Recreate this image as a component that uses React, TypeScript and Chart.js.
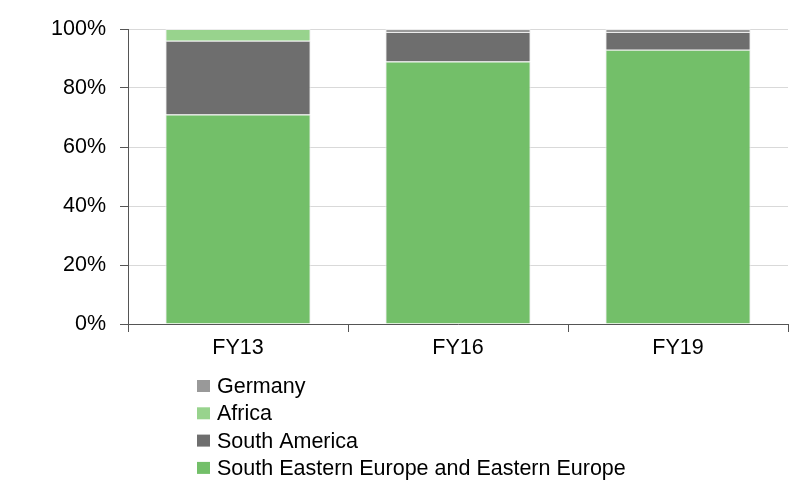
import React, { useEffect, useRef } from "react";
import { Chart, registerables } from "chart.js";

Chart.register(...registerables);

const categories = ["FY13", "FY16", "FY19"];
const seeEurope = [71, 89, 93];
const southAmerica = [25, 10, 6];
const africa = [4, 0, 0];
const germany = [0, 1, 1];
const yTicks = [0, 20, 40, 60, 80, 100];

const FONT = "'Liberation Sans', Arial, sans-serif";

const legendPlugin = {
  id: "customLegend",
  afterDraw(chart: any) {
    const ctx = chart.ctx;
    const ds = chart.data.datasets.slice().reverse();
    ctx.save();
    ctx.font = `21.5px ${FONT}`;
    ctx.textBaseline = "alphabetic";
    ctx.textAlign = "left";
    const x0 = 197;
    const baseline0 = 393;
    const step = 27.3;
    ds.forEach((d: any, i: number) => {
      const b = baseline0 + i * step;
      ctx.fillStyle = d.backgroundColor;
      ctx.fillRect(x0, b - 13, 13, 12);
      ctx.fillStyle = "#000";
      ctx.fillText(d.label, x0 + 20, b);
    });
    ctx.restore();
  },
};

export default function App() {
  const ref = useRef<HTMLCanvasElement>(null);
  useEffect(() => {
    document.body.style.margin = "0";
    const chart = new Chart(ref.current!, {
      type: "bar",
      data: {
        labels: categories,
        datasets: [
          { label: "South Eastern Europe and Eastern Europe", data: seeEurope, backgroundColor: "#73bf69" },
          { label: "South America", data: southAmerica, backgroundColor: "#6e6e6e" },
          { label: "Africa", data: africa, backgroundColor: "#98d38d" },
          { label: "Germany", data: germany, backgroundColor: "#999999" },
        ].map((d) => ({
          ...d,
          borderColor: "#ececec",
          borderWidth: 1,
          categoryPercentage: 1,
          barPercentage: 0.66,
        })),
      },
      options: {
        animation: false,
        responsive: false,
        maintainAspectRatio: false,
        layout: { padding: { top: 29, right: 12, left: 0, bottom: 0 } },
        plugins: { legend: { display: false }, tooltip: { enabled: false } },
        scales: {
          x: {
            stacked: true,
            offset: true,
            grid: {
              offset: true,
              drawOnChartArea: false,
              drawTicks: true,
              tickLength: 8,
              tickColor: "#555",
            },
            border: { color: "#555", width: 1 },
            ticks: { color: "#000", font: { family: FONT, size: 21.5 }, padding: 3 },
            afterFit: (s: any) => {
              s.height = 160;
            },
          },
          y: {
            stacked: true,
            min: 0,
            max: 100,
            afterBuildTicks: (s: any) => {
              s.ticks = yTicks.map((v) => ({ value: v }));
            },
            grid: { color: "#d9d9d9", tickColor: "#555", tickLength: 8 },
            border: { color: "#555", width: 1 },
            ticks: {
              color: "#000",
              font: { family: FONT, size: 21.5 },
              padding: 14,
              callback: (v: any) => `${v}%`,
            },
            afterFit: (s: any) => {
              s.width = 128;
            },
          },
        },
      },
      plugins: [legendPlugin],
    });
    return () => chart.destroy();
  }, []);
  return <canvas ref={ref} width={800} height={484} style={{ display: "block" }} />;
}
